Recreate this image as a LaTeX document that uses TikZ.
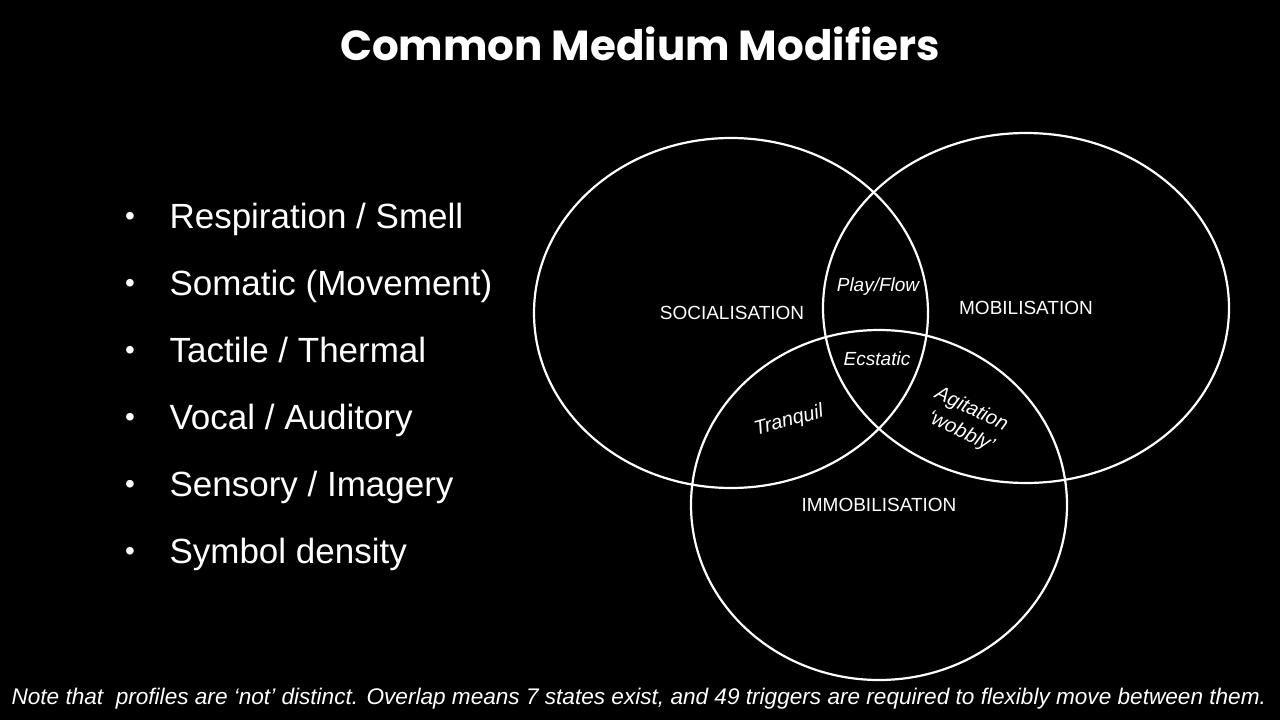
\documentclass[tikz,border=0pt]{standalone}
\usepackage{fontspec}
\setmainfont{Liberation Sans}
\newfontfamily\titlefont{Poppins}
\begin{document}
\begin{tikzpicture}[x=1pt,y=-1pt,
  ring/.style={draw=white,line width=2.2pt},
  bul/.style={anchor=base west,text=white,font=\fontsize{35}{40}\selectfont},
  lab/.style={text=white,font=\fontsize{19}{22}\selectfont},
  sm/.style={text=white,font=\itshape\fontsize{19}{22}\selectfont}]
\useasboundingbox[fill=black] (0,0) rectangle (1280,720);
\node[text=white,font=\titlefont\bfseries\fontsize{42}{48}\selectfont] (title) at (640,44) {Common Medium Modifiers};
\foreach \t [count=\i] in {Respiration / Smell,Somatic (Movement),Tactile / Thermal,Vocal / Auditory,Sensory / Imagery,Symbol density}{
  \node[bul] (b\i) at (166,{228+(\i-1)*67}) {\t};
  \node[anchor=base,text=white,font=\fontsize{28}{28}\selectfont] (d\i) at (130,{225+(\i-1)*67}) {\textbullet};
}
\draw[ring] (731,313) ellipse [x radius=197,y radius=175];
\draw[ring] (1026,308) ellipse [x radius=203,y radius=175];
\draw[ring] (879,505) ellipse [x radius=188,y radius=175];
\node[lab] (soc) at (732,313) {SOCIALISATION};
\node[lab] (mob) at (1026,308) {MOBILISATION};
\node[lab] (imm) at (879,505) {IMMOBILISATION};
\node[sm] (pf) at (878,287) {Play/Flow};
\node[sm] (ec) at (877,359) {Ecstatic};
\node[sm,font=\itshape\fontsize{20}{22}\selectfont,rotate=15] (tr) at (789,421) {Tranquil};
\node[sm,font=\itshape\fontsize{20}{25}\selectfont,rotate=-25,align=center] (ag) at (966,421) {Agitation\\`wobbly'};
\node[anchor=west,text=white,font=\itshape\fontsize{22.6}{28}\selectfont] (note) at (8,699) {Note that\ \ profiles are `not' distinct. Overlap means 7 states exist, and 49 triggers are required to flexibly move between them.};
\end{tikzpicture}
\end{document}
